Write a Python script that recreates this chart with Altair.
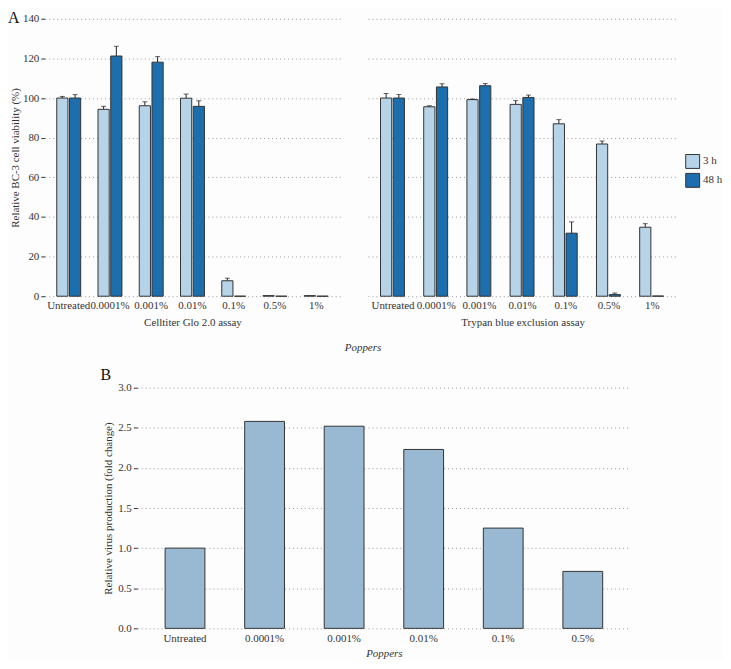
import altair as alt
import pandas as pd

FONT = "Liberation Serif"
TXT = "#333333"

# ---- Panel A data ----
conc = ["Untreated", "0.0001%", "0.001%", "0.01%", "0.1%", "0.5%", "1%"]
times = ["3 h", "48 h"]
time_colors = ["#B7D3E8", "#1D6EAD"]

ctg_3h = [100.0, 94.3, 96.1, 99.9, 7.8, 0.3, 0.3]
ctg_3h_err = [0.8, 1.5, 2.0, 2.1, 1.3, 0.0, 0.0]
ctg_48h = [100.0, 121.2, 118.1, 95.8, 0.0, 0.0, 0.0]
ctg_48h_err = [1.7, 4.9, 2.8, 2.8, 0.0, 0.0, 0.0]

tb_3h = [100.0, 95.6, 99.2, 96.8, 87.0, 76.8, 34.8]
tb_3h_err = [2.3, 0.5, 0.3, 1.9, 2.1, 1.5, 1.8]
tb_48h = [100.0, 105.6, 106.2, 100.3, 31.8, 0.8, 0.1]
tb_48h_err = [1.8, 1.6, 1.1, 1.2, 5.7, 0.8, 0.0]

assays = ["Celltiter Glo 2.0 assay", "Trypan blue exclusion assay"]

# ---- Panel B data ----
virus_conc = ["Untreated", "0.0001%", "0.001%", "0.01%", "0.1%", "0.5%"]
virus_fold = [1.0, 2.58, 2.52, 2.23, 1.25, 0.71]

rows = []
for assay, s3, e3, s48, e48 in [
    (assays[0], ctg_3h, ctg_3h_err, ctg_48h, ctg_48h_err),
    (assays[1], tb_3h, tb_3h_err, tb_48h, tb_48h_err),
]:
    for i, c in enumerate(conc):
        rows.append(dict(assay=assay, conc=c, time="3 h", value=s3[i], err=e3[i]))
        rows.append(dict(assay=assay, conc=c, time="48 h", value=s48[i], err=e48[i]))
df = pd.DataFrame(rows)
df["top"] = df["value"] + df["err"]

H_A = 279
GRID = dict(grid=True, gridDash=[1, 3], gridColor="#9a9a9a", gridWidth=1)
YVALS = [0, 20, 40, 60, 80, 100, 120, 140]


def panel(assay, width, first):
    d = df[df["assay"] == assay]
    base = alt.Chart(d).encode(
        x=alt.X(
            "conc:N",
            sort=conc,
            scale=alt.Scale(paddingInner=0.42, paddingOuter=0.29),
            axis=alt.Axis(
                title=assay, labelAngle=0, ticks=False, domain=False, grid=False,
                labelPadding=3, titlePadding=6, titleFontWeight="normal",
            ),
        ),
        xOffset=alt.XOffset("time:N", sort=times, scale=alt.Scale(paddingInner=0.12)),
    )
    if first:
        yaxis = alt.Axis(
            title="Relative BC-3 cell viability (%)", values=YVALS, tickCount=20,
            labelOverlap=False, domain=False, tickSize=4, tickColor=TXT,
            labelPadding=2, titlePadding=2, titleFontWeight="normal", **GRID,
        )
        legend = None
    else:
        yaxis = alt.Axis(
            title=None, labels=False, ticks=False, domain=False, minExtent=0,
            values=YVALS, tickCount=20, **GRID,
        )
        legend = alt.Legend(
            title=None, orient="none", legendX=width + 8, legendY=136,
            symbolType="square", symbolSize=196, symbolStrokeColor="#333333",
            symbolStrokeWidth=1, rowPadding=0, labelFont=FONT, labelFontSize=11,
            labelColor=TXT, labelOffset=3,
        )
    bars = base.mark_bar(stroke="#333333", strokeWidth=1).encode(
        y=alt.Y("value:Q", scale=alt.Scale(domain=[0, 140], nice=False), axis=yaxis),
        color=alt.Color(
            "time:N", sort=times,
            scale=alt.Scale(domain=times, range=time_colors), legend=legend,
        ),
    )
    err = base.transform_filter("datum.err > 0").mark_rule(color="#222222", strokeWidth=1).encode(
        y="value:Q", y2="top:Q"
    )
    cap = base.transform_filter("datum.err > 0").mark_tick(
        color="#222222", size=5, thickness=1
    ).encode(y="top:Q")
    layers = [err, bars, cap]
    if first:
        a_txt = alt.Chart(pd.DataFrame({"t": ["A"]})).mark_text(
            font=FONT, fontSize=16, align="left", baseline="middle", color="#111111"
        ).encode(text="t:N", x=alt.value(-37), y=alt.value(-1))
        layers.append(a_txt)
    else:
        p_txt = alt.Chart(pd.DataFrame({"t": ["Poppers"]})).mark_text(
            font=FONT, fontSize=11, fontStyle="italic", align="center",
            baseline="middle", color=TXT,
        ).encode(text="t:N", x=alt.value(-5), y=alt.value(H_A + 52))
        layers.append(p_txt)
    return alt.layer(*layers).properties(width=width, height=H_A)


left = panel(assays[0], 297, True)
right = panel(assays[1], 311, False)
top_row = (
    alt.hconcat(left, right, spacing=28, bounds="flush")
    .resolve_scale(color="independent")
    .resolve_legend(color="independent")
)

# ---- Panel B ----
dfb = pd.DataFrame({"conc": virus_conc, "fold": virus_fold})
H_B = 242
barsB = alt.Chart(dfb).mark_bar(color="#98B9D1", stroke="#333333", strokeWidth=1).encode(
    x=alt.X(
        "conc:N", sort=virus_conc,
        scale=alt.Scale(paddingInner=0.5, paddingOuter=0.35),
        axis=alt.Axis(
            title="Poppers", labelAngle=0, ticks=False, domain=False, grid=False,
            labelPadding=4, titlePadding=4, titleFontStyle="italic",
            titleFontWeight="normal",
        ),
    ),
    y=alt.Y(
        "fold:Q", scale=alt.Scale(domain=[0, 3], nice=False),
        axis=alt.Axis(
            title="Relative virus production (fold change)", labelOverlap=False,
            values=[0, 0.5, 1, 1.5, 2, 2.5, 3], format=".1f", tickCount=20,
            domain=False, tickSize=4, tickColor=TXT, labelPadding=2, titlePadding=4,
            titleFontWeight="normal", **GRID,
        ),
    ),
)
b_txt = alt.Chart(pd.DataFrame({"t": ["B"]})).mark_text(
    font=FONT, fontSize=16, align="left", baseline="middle", color="#111111"
).encode(text="t:N", x=alt.value(-37), y=alt.value(-13))
chartB = alt.layer(barsB, b_txt).properties(width=496, height=H_B)

chart = (
    alt.vconcat(top_row, chartB, spacing=14, center=True)
    .properties(padding=0, background="#FDFDFD")
    .configure_view(stroke=None)
    .configure_axis(
        labelFont=FONT, titleFont=FONT, labelFontSize=11, titleFontSize=11,
        labelColor=TXT, titleColor=TXT,
    )
    .configure_text(font=FONT)
)

chart.save("out.html", embed_options={"renderer": "svg", "actions": False})
